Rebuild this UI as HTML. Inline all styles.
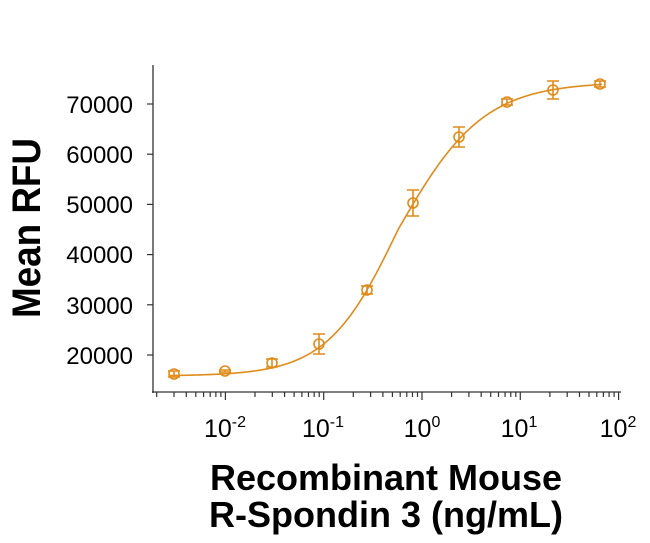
<!DOCTYPE html>
<html><head><style>body{margin:0;background:#fff}svg{display:block}</style></head>
<body>
<svg id="s" width="650" height="543" xmlns="http://www.w3.org/2000/svg" font-family="Liberation Sans, Arial, sans-serif">
<g stroke="#333" stroke-width="1.3" fill="none">
<line x1="153" y1="65" x2="153" y2="393"/>
<line x1="152" y1="392" x2="621" y2="392"/>
</g>
<g id="ticks" stroke="#333" stroke-width="1.2"></g>
<g font-size="24" text-anchor="end" fill="#000">
<text x="133" y="113">70000</text>
<text x="133" y="163">60000</text>
<text x="133" y="213">50000</text>
<text x="133" y="263">40000</text>
<text x="133" y="314">30000</text>
<text x="133" y="364">20000</text>
</g>
<g font-size="25" fill="#000" text-anchor="middle">
<text x="225" y="437">10<tspan font-size="16" dy="-10">-2</tspan></text>
<text x="323" y="437">10<tspan font-size="16" dy="-10">-1</tspan></text>
<text x="422" y="437">10<tspan font-size="16" dy="-10">0</tspan></text>
<text x="519" y="437">10<tspan font-size="16" dy="-10">1</tspan></text>
<text x="618" y="437">10<tspan font-size="16" dy="-10">2</tspan></text>
</g>
<text transform="translate(40,228) rotate(-90)" text-anchor="middle" font-size="40" font-weight="bold" textLength="180" lengthAdjust="spacingAndGlyphs">Mean RFU</text>
<g font-size="36" font-weight="bold" text-anchor="middle">
<text x="386" y="490">Recombinant Mouse</text>
<text x="386" y="527">R-Spondin 3 (ng/mL)</text>
</g>
<path id="curve" fill="none" stroke="#e08b1a" stroke-width="1.6"/>
<g id="pts" stroke="#e08b1a" stroke-width="1.6" fill="none"></g>
</svg>
<script>
var ns="http://www.w3.org/2000/svg";
var t=document.getElementById('ticks');
function L(x1,y1,x2,y2){var l=document.createElementNS(ns,'line');l.setAttribute('x1',x1);l.setAttribute('y1',y1);l.setAttribute('x2',x2);l.setAttribute('y2',y2);t.appendChild(l);}
var X=function(lg){return 422+lg*98.3;};
for(var d=-3;d<=1;d++){for(var k=1;k<=9;k++){var lg=d+Math.log10(k);var x=X(lg);if(x<155||x>620)continue;L(x,392,x,k==1?400:397);}}
L(X(2),392,X(2),400);
for(var i=0;i<6;i++){var y=104+i*50.2;L(147,y,153,y);}
var B=376,T=82,u0=-0.24,d="";
for(var x=170;x<=603;x+=2){var u=(x-422)/98.3;var h=u<u0?1.2:1.0;var f=1/(1+Math.pow(10,h*(u0-u)));var y=B-(B-T)*f;d+=(x==170?"M":"L")+x+","+y.toFixed(2);}
document.getElementById('curve').setAttribute('d',d);
var P=[[174,374,3],[225,371,1],[272,363,4],[319,344,10],[367,290,4],[413,203,13],[459,137,10],[507,102,3],[553,90,9],[600,84,3]];
var g=document.getElementById('pts');
P.forEach(function(p){
var c=document.createElementNS(ns,'circle');c.setAttribute('cx',p[0]);c.setAttribute('cy',p[1]);c.setAttribute('r',5);g.appendChild(c);
var e=document.createElementNS(ns,'path');var x=p[0],y=p[1],r=p[2];
e.setAttribute('d','M'+x+','+(y-r)+'V'+(y+r)+'M'+(x-6)+','+(y-r)+'H'+(x+6)+'M'+(x-6)+','+(y+r)+'H'+(x+6));g.appendChild(e);});
</script>
</body></html>
